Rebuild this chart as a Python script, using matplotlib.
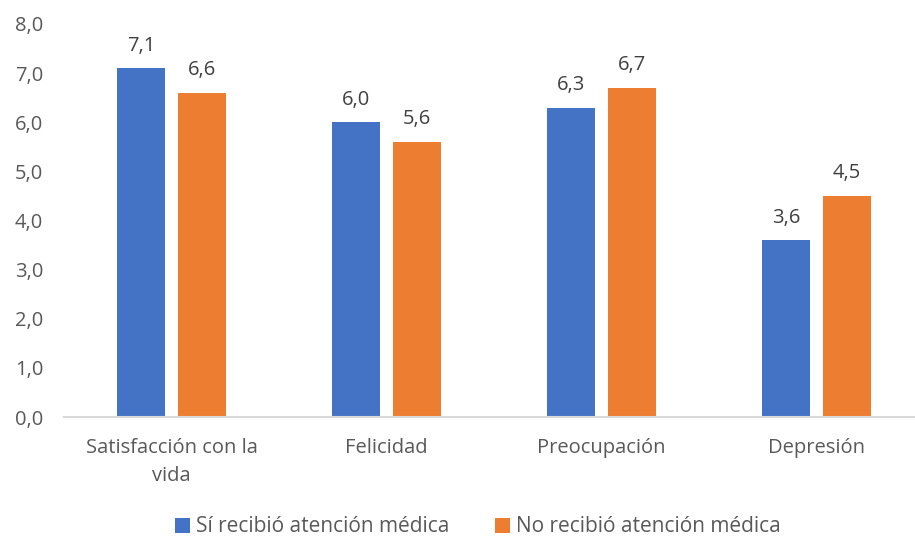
import matplotlib.pyplot as plt
import numpy as np
import matplotlib

matplotlib.rcParams['font.family'] = ['Open Sans', 'DejaVu Sans']

categorias = ['Satisfacción con la\nvida', 'Felicidad', 'Preocupación', 'Depresión']
si_atencion = [7.1, 6.0, 6.3, 3.6]
no_atencion = [6.6, 5.6, 6.7, 4.5]
etiquetas_y = ['0,0', '1,0', '2,0', '3,0', '4,0', '5,0', '6,0', '7,0', '8,0']

W, H = 915, 544
fig = plt.figure(figsize=(W / 100, H / 100), dpi=100)
# axes placed in pixel coords: left 64, right 915, bottom 417, top 24
ax = fig.add_axes([64 / W, (H - 417) / H, (915 - 64) / W, (417 - 24) / H])

x = np.arange(len(categorias))
w = 0.223
off = 0.142
b1 = ax.bar(x - off, si_atencion, w, color='#4472C4', label='Sí recibió atención médica')
b2 = ax.bar(x + off, no_atencion, w, color='#ED7D31', label='No recibió atención médica')

for bars, vals in [(b1, si_atencion), (b2, no_atencion)]:
    for r, v in zip(bars, vals):
        ax.annotate(f'{v:.1f}'.replace('.', ','), xy=(r.get_x() + r.get_width() / 2, v),
                    xytext=(0, 9), textcoords='offset points', ha='center', va='bottom',
                    fontsize=14.5, color='#404040')

ax.set_ylim(0, 8)
ax.set_xlim(-0.5, -0.5 + (915 - 64) / 215)
ax.set_yticks(range(9))
ax.set_yticklabels(etiquetas_y)
ax.set_xticks(x)
ax.set_xticklabels(categorias, fontsize=14.5, color='#595959', linespacing=1.55)

for s in ['top', 'right', 'left']:
    ax.spines[s].set_visible(False)
ax.spines['bottom'].set_color('#D9D9D9')
ax.spines['bottom'].set_linewidth(1.5)
ax.tick_params(axis='both', length=0)
ax.tick_params(axis='y', labelsize=14.5, labelcolor='#595959', pad=15)
ax.tick_params(axis='x', pad=15)

fig.legend(loc='center', bbox_to_anchor=(478 / W, (H - 527) / H), ncol=2, frameon=False,
           fontsize=15, labelcolor='#595959', handlelength=0.7, handleheight=0.7,
           handletextpad=0.3, columnspacing=2.2)

fig.savefig('out.png', dpi=100)
